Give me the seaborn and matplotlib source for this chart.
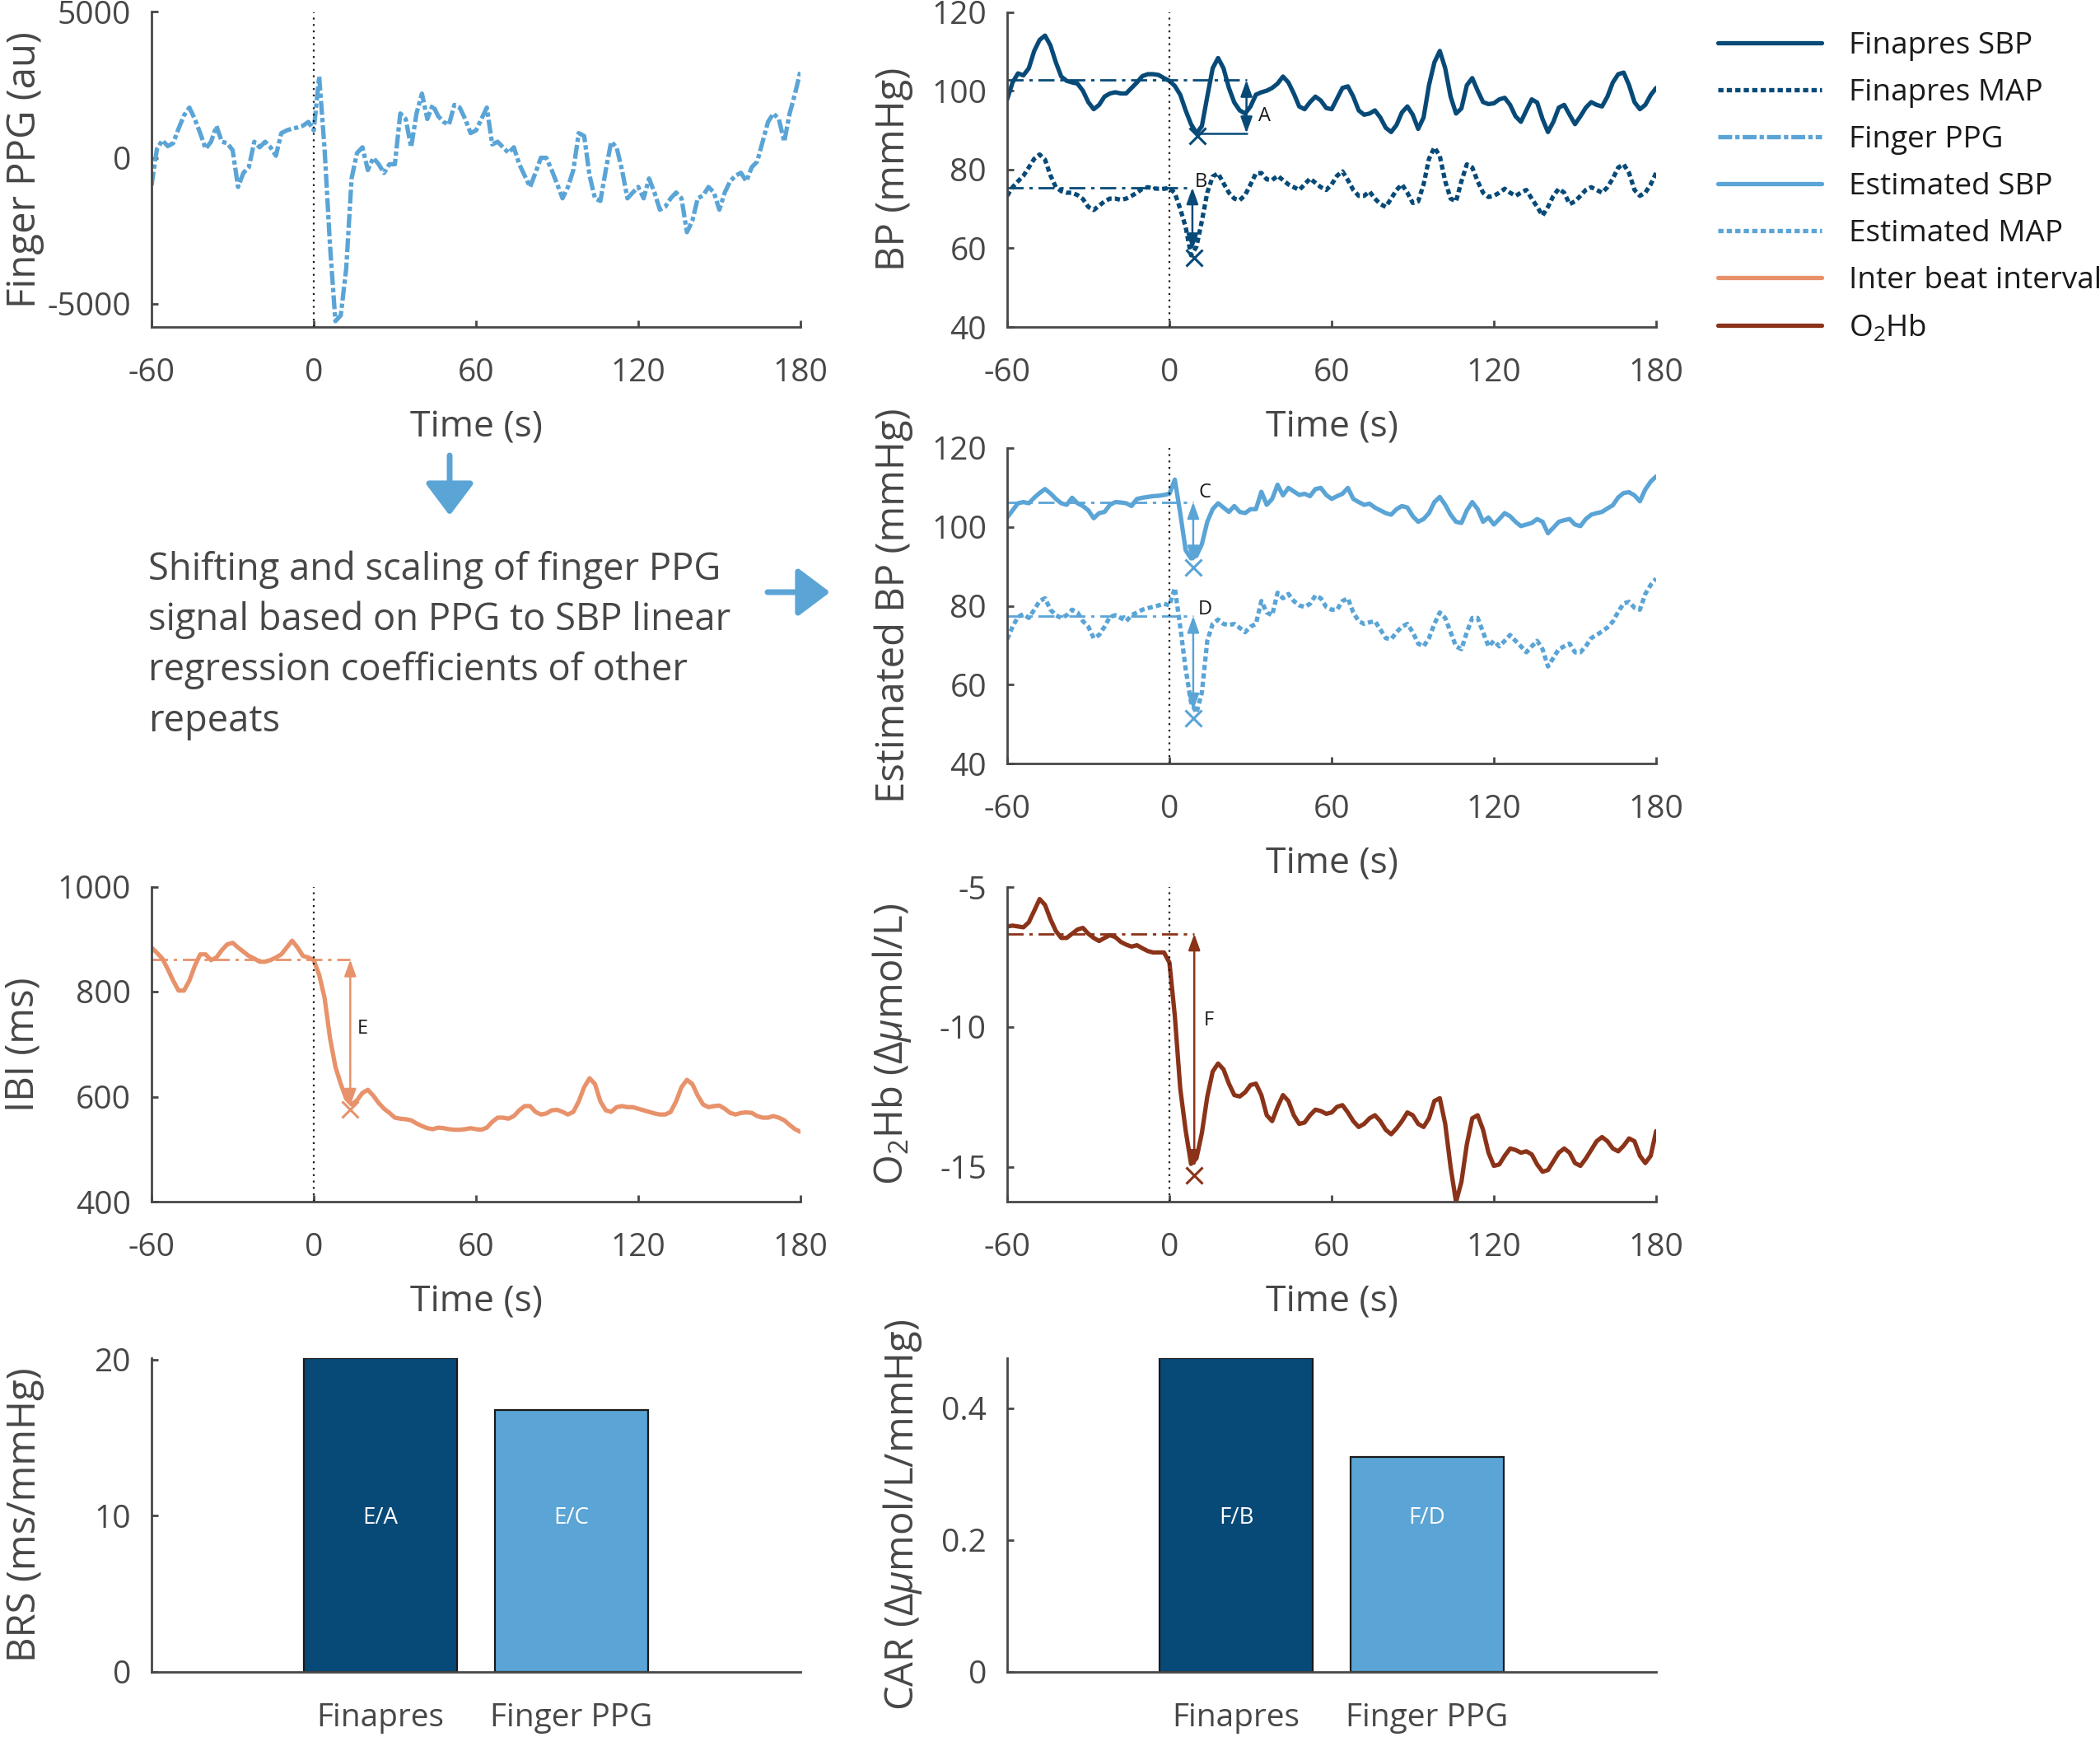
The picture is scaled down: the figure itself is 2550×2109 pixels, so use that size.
import numpy as np
import seaborn as sns
import matplotlib.pyplot as plt
from matplotlib.lines import Line2D
from matplotlib.patches import FancyArrowPatch
from matplotlib.ticker import FuncFormatter

# sample times (s) of the traces
TIME = np.arange(-60, 181, 2)

finger_ppg = [
    -950, 300, 600, 400, 500, 1000, 1450, 1720, 1330, 845,
    310, 550, 1090, 550, 500, 260, -1000, -515, -320, 550,
    360, 550, 360, 70, 845, 940, 1000, 1040, 1100, 1230,
    940, 2790, 300, -3000, -5600, -5400, -3800, -700, 165, 360,
    -420, 0, -220, -520, -220, -220, 1520, 1330, 360, 1520,
    2200, 1330, 1815, 1430, 1230, 1135, 1815, 1720, 1330, 845,
    940, 1330, 1720, 460, 550, 360, 170, 360, -220, -610,
    -1000, -515, 0, 0, -420, -900, -1390, -1000, -420, 845,
    750, -610, -1390, -1480, -420, 550, 360, -420, -1390, -1190,
    -1000, -1390, -710, -1190, -1780, -1680, -1390, -1190, -1390, -2550,
    -2165, -1390, -1290, -1000, -1190, -1780, -1190, -805, -610, -515,
    -805, -320, -130, 550, 1230, 1520, 1330, 550, 1520, 2200,
    2980]

finapres_sbp = [
    97.8, 102.1, 104.4, 103.9, 105.7, 110.1, 112.9, 114.0, 111.5, 107.2,
    103.6, 102.5, 102.1, 101.8, 100.0, 97.1, 95.3, 96.4, 98.5, 99.3,
    99.6, 99.3, 99.3, 100.7, 102.1, 103.7, 104.2, 104.2, 104.0, 103.2,
    102.5, 101.2, 99.0, 95.0, 91.5, 89.2, 91.0, 98.5, 105.7, 108.3,
    105.7, 100.7, 97.0, 95.0, 94.2, 96.0, 99.0, 99.6, 100.0, 100.7,
    101.8, 103.6, 102.1, 99.3, 96.0, 95.3, 97.1, 98.5, 97.5, 95.6,
    95.3, 98.0, 100.7, 101.1, 98.5, 95.0, 93.9, 94.2, 95.0, 93.2,
    90.6, 89.5, 91.3, 94.5, 96.0, 93.9, 90.3, 93.2, 101.4, 107.2,
    110.1, 105.7, 98.5, 94.2, 95.5, 101.4, 103.2, 100.0, 97.1, 96.6,
    96.8, 97.8, 98.2, 96.4, 93.5, 92.1, 95.0, 97.8, 97.0, 92.8,
    89.5, 92.1, 95.7, 96.4, 93.9, 91.5, 93.5, 95.7, 97.1, 96.4,
    96.0, 98.5, 102.1, 104.2, 104.6, 101.4, 97.1, 95.3, 96.4, 98.9,
    100.7]

finapres_map = [
    73.3, 75.5, 77.0, 78.4, 80.5, 82.7, 83.8, 82.5, 78.5, 75.5,
    74.5, 74.1, 74.1, 73.5, 72.5, 70.5, 69.7, 70.8, 71.9, 72.6,
    72.6, 72.3, 72.6, 73.3, 74.1, 75.1, 75.5, 75.2, 75.1, 75.1,
    75.3, 74.0, 70.0, 65.4, 58.2, 60.4, 66.9, 74.1, 78.2, 79.0,
    76.5, 74.1, 72.6, 72.2, 73.5, 76.2, 79.0, 79.1, 77.5, 77.3,
    78.4, 77.3, 76.2, 75.5, 74.8, 76.2, 77.7, 76.6, 75.5, 74.8,
    76.2, 78.4, 79.5, 77.3, 74.8, 73.3, 73.3, 74.4, 72.6, 71.2,
    70.5, 72.6, 74.8, 76.2, 74.1, 71.5, 71.9, 76.2, 82.7, 85.6,
    83.4, 77.0, 72.6, 71.9, 77.0, 81.3, 80.5, 77.0, 74.1, 73.0,
    73.3, 74.1, 75.1, 74.1, 73.3, 74.1, 74.8, 72.6, 70.5, 68.3,
    70.5, 73.3, 75.1, 74.1, 71.2, 71.9, 73.3, 74.8, 75.5, 74.8,
    74.1, 75.5, 77.7, 80.5, 81.3, 79.1, 74.8, 73.3, 74.1, 76.2,
    79.1]

estimated_sbp = [
    102.4, 104.2, 106.0, 106.3, 106.0, 107.4, 108.6, 109.6, 108.5, 107.1,
    106.0, 105.6, 107.4, 106.0, 105.3, 104.2, 102.2, 103.5, 103.8, 105.6,
    106.3, 106.2, 106.0, 105.3, 107.1, 107.4, 107.6, 107.8, 107.9, 108.1,
    108.4, 112.0, 103.5, 94.1, 92.0, 92.7, 95.6, 101.3, 104.5, 106.0,
    104.9, 103.8, 105.3, 103.8, 103.5, 104.5, 104.5, 108.9, 105.6, 107.1,
    110.7, 108.0, 109.9, 109.0, 108.1, 108.4, 107.8, 109.6, 109.9, 108.1,
    107.1, 107.8, 108.4, 109.9, 107.1, 106.3, 105.6, 105.9, 104.9, 104.2,
    103.5, 103.1, 104.5, 105.3, 104.9, 102.7, 101.3, 102.0, 103.5, 106.3,
    107.6, 105.6, 103.1, 101.3, 101.0, 104.2, 106.3, 104.5, 101.3, 102.4,
    100.6, 102.0, 103.5, 102.7, 101.3, 100.2, 100.6, 101.0, 102.0, 101.3,
    98.4, 99.8, 101.3, 101.7, 102.0, 100.6, 100.2, 102.0, 103.1, 103.5,
    103.8, 104.7, 105.5, 107.5, 108.6, 108.8, 108.0, 106.5, 109.5, 111.5,
    112.8]

estimated_map = [
    71.5, 74.7, 77.2, 77.9, 76.9, 79.0, 81.2, 81.9, 79.0, 77.6,
    76.9, 77.6, 79.0, 78.3, 76.1, 74.7, 71.8, 72.6, 74.7, 77.2,
    77.6, 76.9, 76.1, 77.6, 78.3, 79.0, 79.4, 79.7, 80.1, 80.5,
    80.1, 84.5, 74.7, 64.0, 55.5, 52.8, 58.0, 71.1, 75.4, 76.5,
    75.4, 75.1, 75.4, 74.4, 73.3, 74.7, 75.4, 81.2, 78.3, 77.6,
    83.3, 81.9, 83.0, 81.2, 80.1, 79.7, 80.5, 82.6, 81.9, 79.7,
    79.0, 79.0, 81.2, 81.9, 78.3, 76.1, 75.4, 75.8, 76.1, 74.0,
    71.8, 71.5, 73.3, 74.7, 75.4, 73.3, 70.4, 69.7, 71.8, 75.4,
    78.3, 76.9, 73.3, 69.7, 69.0, 73.3, 76.9, 76.9, 73.3, 69.7,
    71.1, 69.7, 71.1, 72.6, 71.1, 69.7, 68.2, 69.7, 71.1, 69.0,
    64.6, 66.8, 69.0, 69.7, 70.4, 68.2, 68.2, 69.7, 71.8, 72.6,
    73.5, 74.5, 76.0, 78.5, 80.6, 81.0, 79.5, 79.0, 83.0, 85.3,
    86.9]

ibi = [
    884, 874, 863, 843, 821, 802, 802, 821, 849, 871,
    871, 860, 865, 879, 890, 893, 884, 876, 868, 863,
    857, 857, 860, 865, 871, 884, 897, 884, 868, 865,
    860, 832, 788, 712, 657, 624, 596, 585, 593, 607,
    613, 602, 588, 577, 569, 560, 558, 557, 555, 549,
    544, 540, 538, 541, 540, 538, 537, 537, 538, 540,
    538, 537, 541, 552, 560, 560, 558, 563, 574, 582,
    582, 571, 566, 568, 574, 575, 571, 566, 571, 591,
    618, 635, 624, 591, 574, 571, 580, 582, 580, 580,
    577, 574, 571, 568, 566, 566, 571, 591, 618, 632,
    624, 602, 585, 580, 582, 583, 577, 569, 566, 569,
    570, 569, 563, 560, 560, 563, 560, 555, 546, 538,
    533]

o2hb = [
    -6.41, -6.38, -6.41, -6.44, -6.26, -5.85, -5.43, -5.64, -6.15, -6.57,
    -6.82, -6.82, -6.67, -6.52, -6.46, -6.67, -6.82, -6.93, -6.82, -6.72,
    -6.79, -6.96, -7.06, -7.13, -7.08, -7.19, -7.29, -7.34, -7.34, -7.34,
    -7.7, -9.6, -12.2, -13.7, -14.9, -14.7, -13.8, -12.5, -11.6, -11.31,
    -11.52, -12.03, -12.44, -12.49, -12.34, -12.08, -12.03, -12.44, -13.16, -13.37,
    -12.86, -12.44, -12.65, -13.16, -13.47, -13.42, -13.16, -12.96, -13.01, -13.11,
    -13.06, -12.86, -12.80, -13.06, -13.37, -13.58, -13.47, -13.27, -13.16, -13.37,
    -13.68, -13.84, -13.63, -13.37, -13.06, -13.16, -13.47, -13.58, -13.27, -12.65,
    -12.55, -13.47, -15.02, -16.26, -15.54, -14.2, -13.27, -13.16, -13.68, -14.5,
    -14.97, -14.92, -14.61, -14.35, -14.4, -14.5, -14.45, -14.56, -14.92, -15.18,
    -15.12, -14.81, -14.5, -14.35, -14.5, -14.87, -14.97, -14.71, -14.4, -14.09,
    -13.94, -14.09, -14.35, -14.45, -14.25, -13.99, -14.09, -14.61, -14.87, -14.61,
    -13.73]

# drop measurements A-F: baseline, arrow time, arrow bottom, minimum (x marker), label spot
drop_labels = ['A', 'B', 'C', 'D', 'E', 'F']
drop_base = [102.7, 75.4, 106.3, 77.4, 861, -6.67]
drop_time = [28.5, 8.5, 8.8, 8.8, 13.5, 9.2]
drop_low = [89.2, 59.5, 91.0, 53.5, 583, -15.0]
min_time = [10.5, 9.0, 8.8, 8.8, 13.5, 9.2]
min_value = [88.6, 57.5, 89.8, 51.5, 575, -15.3]
label_time = [33.0, 9.5, 10.8, 10.5, 16.0, 12.7]
label_value = [93.5, 76.8, 108.7, 79.0, 730, -9.78]

bar_cats = ['Finapres', 'Finger PPG']
brs = [20.13, 16.8]
car = [0.4765, 0.3265]
brs_tags = ['E/A', 'E/C']
car_tags = ['F/B', 'F/D']

legend_labels = ['Finapres SBP', 'Finapres MAP', 'Finger PPG', 'Estimated SBP',
                 'Estimated MAP', 'Inter beat interval', 'O$_2$Hb']

note = ('Shifting and scaling of finger PPG\n'
        'signal based on PPG to SBP linear\n'
        'regression coefficients of other\n'
        'repeats')

DARK = '#074a78'
LIGHT = '#5aa4d6'
ORANGE = '#e8926b'
BROWN = '#8b3319'
GREY = '#474747'
LW = 1.9
DOT = (0, (1.2, 0.75))
DASHDOT = (0, (3.2, 0.7, 1.0, 0.7))
BASE_LS = (0, (7, 2.5, 1.5, 2.5))
XTICKS = [-60, 0, 60, 120, 180]

sns.set_theme(style='ticks')
plt.rcParams['font.family'] = ['Open Sans', 'DejaVu Sans']
plt.rcParams.update({
    'axes.unicode_minus': False,
    'mathtext.fontset': 'custom',
    'mathtext.rm': 'Open Sans',
    'mathtext.it': 'Open Sans:italic',
    'mathtext.bf': 'Open Sans:bold',
    'axes.edgecolor': GREY,
    'axes.labelcolor': GREY,
    'axes.linewidth': 1.0,
    'xtick.color': GREY,
    'ytick.color': GREY,
    'xtick.direction': 'in',
    'ytick.direction': 'in',
    'xtick.major.size': 3,
    'ytick.major.size': 3,
    'xtick.major.width': 1.0,
    'ytick.major.width': 1.0,
    'xtick.labelsize': 14,
    'ytick.labelsize': 14,
    'xtick.major.pad': 13.3,
    'ytick.major.pad': 9,
})

W, H = 2550, 2109
fig = plt.figure(figsize=(W / 200, H / 200), dpi=200)


def box(x0, x1, ytop, ybot):
    return [x0 / W, 1 - ybot / H, (x1 - x0) / W, (ybot - ytop) / H]


LEFT = (184, 972)
RIGHT = (1223, 2011)
ax_ppg = fig.add_axes(box(*LEFT, 14.5, 397))
ax_bp = fig.add_axes(box(*RIGHT, 14.5, 397))
ax_est = fig.add_axes(box(*RIGHT, 544, 927))
ax_ibi = fig.add_axes(box(*LEFT, 1076.5, 1459))
ax_hb = fig.add_axes(box(*RIGHT, 1077, 1459))
ax_brs = fig.add_axes(box(*LEFT, 1648.5, 2030))
ax_car = fig.add_axes(box(*RIGHT, 1648.5, 2030))


def time_axis(ax, ylim, yticks, ylabel, label_x):
    ax.axvline(0, color='k', lw=0.8, ls=(0, (1, 2.5)))
    ax.set_xlim(-60, 180)
    ax.set_xticks(XTICKS)
    ax.set_ylim(*ylim)
    ax.set_yticks(yticks)
    ax.set_xlabel('Time (s)', fontsize=16, labelpad=9.2)
    ax.set_ylabel(ylabel, fontsize=17)
    ax.yaxis.set_label_coords(label_x, 0.5)
    sns.despine(ax=ax)


def mark_drop(ax, i, color):
    ax.plot([XTICKS[0], drop_time[i]], [drop_base[i], drop_base[i]],
            color=color, lw=1.0, ls=BASE_LS)
    ax.annotate('', xy=(drop_time[i], drop_base[i]), xytext=(drop_time[i], drop_low[i]),
                arrowprops=dict(arrowstyle='<|-|>,head_length=0.5,head_width=0.18',
                                color=color, lw=0.9, shrinkA=0, shrinkB=0,
                                mutation_scale=12))
    ax.plot(min_time[i], min_value[i], marker='x', color=color, ms=7, mew=1.1)
    ax.text(label_time[i], label_value[i], drop_labels[i], fontsize=8.5,
            color='#1a1a1a', ha='left', va='center')


# finger PPG
sns.lineplot(x=TIME, y=finger_ppg, ax=ax_ppg, color=LIGHT, lw=LW,
             linestyle=DASHDOT, estimator=None)
time_axis(ax_ppg, (-5800, 5000), [-5000, 0, 5000], 'Finger PPG (au)', -0.165)

# Finapres BP
sns.lineplot(x=TIME, y=finapres_sbp, ax=ax_bp, color=DARK, lw=LW, estimator=None)
sns.lineplot(x=TIME, y=finapres_map, ax=ax_bp, color=DARK, lw=LW,
             linestyle=DOT, estimator=None)
mark_drop(ax_bp, 0, DARK)
ax_bp.plot([min_time[0], drop_time[0]], [drop_low[0], drop_low[0]], color=DARK, lw=0.9)
mark_drop(ax_bp, 1, DARK)
time_axis(ax_bp, (40, 120), [40, 60, 80, 100, 120], 'BP (mmHg)', -0.145)

# estimated BP
sns.lineplot(x=TIME, y=estimated_sbp, ax=ax_est, color=LIGHT, lw=LW, estimator=None)
sns.lineplot(x=TIME, y=estimated_map, ax=ax_est, color=LIGHT, lw=LW,
             linestyle=DOT, estimator=None)
mark_drop(ax_est, 2, LIGHT)
mark_drop(ax_est, 3, LIGHT)
time_axis(ax_est, (40, 120), [40, 60, 80, 100, 120], 'Estimated BP (mmHg)', -0.145)

# inter beat interval
sns.lineplot(x=TIME, y=ibi, ax=ax_ibi, color=ORANGE, lw=LW, estimator=None)
mark_drop(ax_ibi, 4, ORANGE)
time_axis(ax_ibi, (400, 1000), [400, 600, 800, 1000], 'IBI (ms)', -0.168)

# O2Hb
sns.lineplot(x=TIME, y=o2hb, ax=ax_hb, color=BROWN, lw=LW, estimator=None)
mark_drop(ax_hb, 5, BROWN)
time_axis(ax_hb, (-16.25, -5), [-15, -10, -5], r'O$_2$Hb ($\Delta\mu$mol/L)', -0.145)


def bar_axis(ax, values, tags, yticks, ylabel, label_x):
    sns.barplot(x=bar_cats, y=values, hue=bar_cats, palette=[DARK, LIGHT],
                saturation=1, width=0.8, edgecolor='#1a1a1a', linewidth=0.8,
                legend=False, ax=ax)
    for i, tag in enumerate(tags):
        ax.text(i, 0.49, tag, transform=ax.get_xaxis_transform(), ha='center',
                va='center', color='white', fontsize=10)
    ax.set_xlim(-1.2, 2.2)
    ax.set_ylim(0, max(values))
    ax.set_yticks(yticks)
    ax.yaxis.set_major_formatter(FuncFormatter(lambda v, _: f'{v:g}'))
    ax.set_ylabel(ylabel, fontsize=17)
    ax.yaxis.set_label_coords(label_x, 0.5)
    sns.despine(ax=ax)


bar_axis(ax_brs, brs, brs_tags, [0, 10, 20], 'BRS (ms/mmHg)', -0.165)
bar_axis(ax_car, car, car_tags, [0, 0.2, 0.4], r'CAR ($\Delta\mu$mol/L/mmHg)', -0.128)

# explanatory note with arrows
fig.text(180 / W, 1 - 668 / H, note, fontsize=16.3, color=GREY, ha='left', va='top',
         linespacing=1.43)
for start, end in [((546, 553), (546, 626)), ((932, 719), (1008, 719))]:
    fig.add_artist(FancyArrowPatch((start[0] / W, 1 - start[1] / H),
                                   (end[0] / W, 1 - end[1] / H),
                                   transform=fig.transFigure, color=LIGHT, lw=2.5,
                                   arrowstyle='-|>,head_length=0.6,head_width=0.45',
                                   mutation_scale=20, shrinkA=0, shrinkB=0))

# legend
handles = [Line2D([], [], color=DARK, lw=LW),
           Line2D([], [], color=DARK, lw=LW, ls=DOT),
           Line2D([], [], color=LIGHT, lw=LW, ls=DASHDOT),
           Line2D([], [], color=LIGHT, lw=LW),
           Line2D([], [], color=LIGHT, lw=LW, ls=DOT),
           Line2D([], [], color=ORANGE, lw=LW),
           Line2D([], [], color=BROWN, lw=LW)]
fig.legend(handles, legend_labels, loc='upper left', bbox_to_anchor=(2086 / W, 1 - 38 / H),
           frameon=False, fontsize=13.3, handlelength=3.4, handletextpad=0.9,
           labelspacing=0.57, borderpad=0, borderaxespad=0, labelcolor='#1a1a1a')

fig.savefig('out.png', dpi=200)
